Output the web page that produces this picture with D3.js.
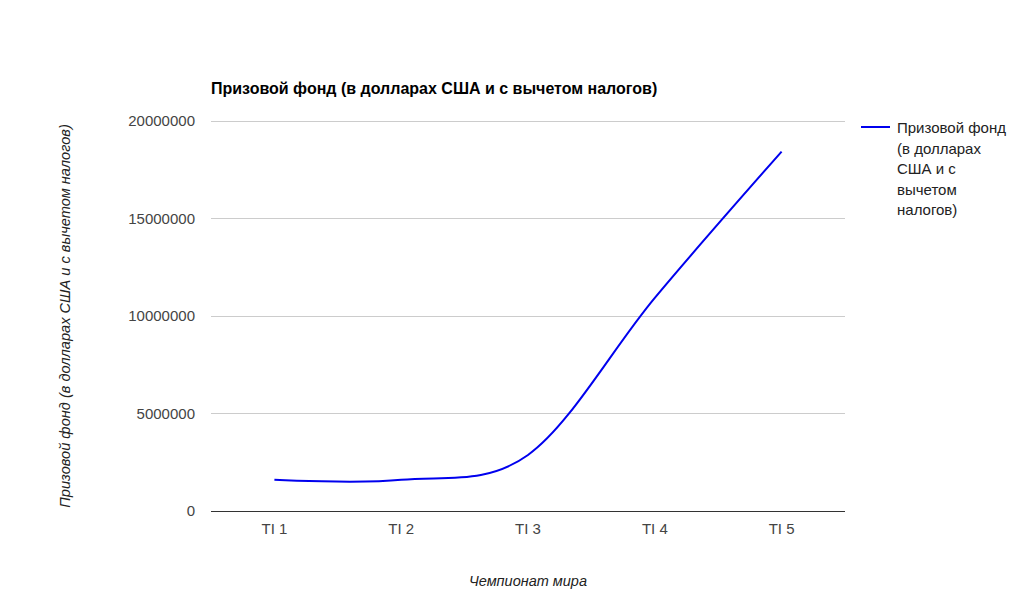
<!DOCTYPE html>
<html><head><meta charset="utf-8">
<script src="https://cdn.jsdelivr.net/npm/d3@7"></script>
<style>body{margin:0;background:#fff}text{font-family:Arial,"Liberation Sans",sans-serif}</style>
</head><body>
<svg id="c" width="1011" height="600"></svg>
<script>
const categories = ["TI 1", "TI 2", "TI 3", "TI 4", "TI 5"];
const values = [1600000, 1600000, 2874380, 10930000, 18430000];
const yTicks = [0, 5000000, 10000000, 15000000, 20000000];
const seriesName = "Призовой фонд (в долларах США и с вычетом налогов)";
const legendLines = ["Призовой фонд", "(в долларах", "США и с", "вычетом", "налогов)"];
const xTitle = "Чемпионат мира";

const svg = d3.select("#c");
const L = 211, R = 845, T = 121, B = 511;
const x = d3.scaleBand().domain(categories).range([L, R]);
const y = d3.scaleLinear().domain([0, 20000000]).range([B, T]);

// gridlines
svg.append("g").selectAll("line").data(yTicks.filter(d => d !== 0)).join("line")
  .attr("x1", L).attr("x2", R).attr("y1", d => y(d)).attr("y2", d => y(d))
  .attr("stroke", "#cccccc").attr("stroke-width", 1).attr("shape-rendering", "crispEdges");

// y labels
const yAxis = d3.axisLeft(y).tickValues(yTicks).tickSize(0).tickPadding(16).tickFormat(d3.format("d"));
const gy = svg.append("g").attr("transform", `translate(${L},0)`).call(yAxis);
gy.select(".domain").remove();
gy.selectAll("text").attr("font-size", 15).attr("fill", "#444").attr("font-family", "Arial, 'Liberation Sans', sans-serif");

// x labels
const xAxis = d3.axisBottom(x).tickSize(0).tickPadding(12);
const gx = svg.append("g").attr("transform", `translate(0,${B})`).call(xAxis);
gx.select(".domain").remove();
gx.selectAll("text").attr("font-size", 15).attr("fill", "#444").attr("font-family", "Arial, 'Liberation Sans', sans-serif");

// baseline
svg.append("line").attr("x1", L).attr("x2", R).attr("y1", y(0)).attr("y2", y(0))
  .attr("stroke", "#333").attr("stroke-width", 1).attr("shape-rendering", "crispEdges");

// line
const line = d3.line().x((d, i) => x(categories[i]) + x.bandwidth() / 2).y(d => y(d)).curve(d3.curveCatmullRom.alpha(0));
svg.append("path").datum(values).attr("d", line).attr("fill", "none")
  .attr("stroke", "#0000ee").attr("stroke-width", 2);

// title
svg.append("text").attr("x", L).attr("y", 94).text(seriesName)
  .attr("font-size", 16).attr("font-weight", "bold").attr("fill", "#000");

// axis titles
svg.append("text").attr("x", (L + R) / 2).attr("y", 586).attr("text-anchor", "middle")
  .attr("font-size", 14.5).attr("font-style", "italic").attr("fill", "#222").text(xTitle);
svg.append("text").attr("transform", `translate(70,${(T + B) / 2}) rotate(-90)`).attr("text-anchor", "middle")
  .attr("font-size", 14.6).attr("font-style", "italic").attr("fill", "#222").text(seriesName);

// legend
svg.append("line").attr("x1", 861).attr("x2", 890).attr("y1", 127).attr("y2", 127)
  .attr("stroke", "#0000ee").attr("stroke-width", 2);
svg.append("g").selectAll("text").data(legendLines).join("text")
  .attr("x", 897).attr("y", (d, i) => 133 + i * 20.5).text(d => d)
  .attr("font-size", 15).attr("fill", "#222");
</script>
</body></html>
